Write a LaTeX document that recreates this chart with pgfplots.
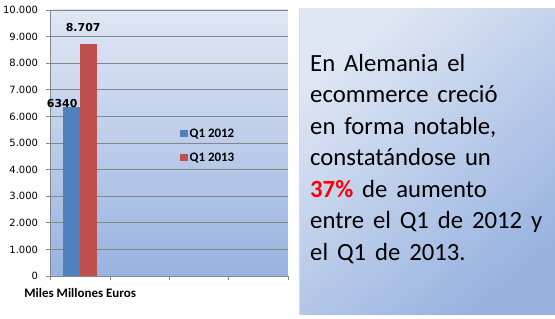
\documentclass[border=0pt]{standalone}
\usepackage{pgfplots}
\pgfplotsset{compat=1.18}
\usepackage{fontspec}
\setmainfont{Carlito}
\newfontfamily\dejavu{DejaVu Sans}
\definecolor{barblue}{HTML}{4F81BD}
\definecolor{barred}{HTML}{C0504D}
\definecolor{bglight}{HTML}{E0E7F4}
\definecolor{bgdark}{HTML}{98B3E0}
\definecolor{gridgray}{HTML}{868686}
\newcommand\paneltext{\fontsize{24.8}{28}\selectfont\spaceskip=0.36em plus 0em\relax}
\begin{document}
\begin{tikzpicture}
\useasboundingbox (0bp,0bp) rectangle (555bp,319bp);
\fill[white] (0bp,0bp) rectangle (555bp,319bp);
% text panel
\shade[top color=bglight, bottom color=bgdark, shading angle=40] (299bp,4bp) rectangle (555bp,310bp);
\draw[gray!30, line width=0.6bp] (299bp,4bp) -- (299bp,310bp);
\begin{scope}[every node/.style={anchor=base west, inner sep=0pt, font=\paneltext}]
\node at (310bp,247bp) {En Alemania el};
\node at (310bp,216bp) {ecommerce creció};
\node at (310bp,184bp) {en forma notable,};
\node at (310bp,153bp) {constatándose un};
\node at (310bp,121bp) {\textcolor{red}{\bfseries 37\%} de aumento};
\node at (310bp,90bp) {entre el Q1 de 2012 y};
\node at (310bp,58bp) {el Q1 de 2013.};
\end{scope}
\begin{axis}[
  at={(50.5bp,43bp)}, anchor=south west,
  scale only axis, width=237.5bp, height=266bp,
  xmin=0, xmax=4, ymin=0, ymax=10000,
  scaled y ticks=false,
  axis lines*=left,
  axis line style={gridgray, line width=0.7bp},
  axis background/.style={top color=bglight, bottom color=bgdark},
  ybar=0pt, bar width=17bp,
  xtick={0,1,2,3,4}, xticklabels={},
  ytick={0,1000,...,10000},
  yticklabels={0,1.000,2.000,3.000,4.000,5.000,6.000,7.000,8.000,9.000,10.000},
  yticklabel style={font=\dejavu\fontsize{10}{12}\selectfont, text=black, xshift=-5bp},
  tick align=outside, major tick length=4bp,
  tick style={gridgray, line width=0.7bp},
  ymajorgrids, grid style={gridgray, line width=0.7bp},
  legend style={at={(0.545,0.49)}, anchor=west, draw=none, fill=none,
    font=\bfseries\fontsize{13}{15}\selectfont, row sep=10bp,
    inner sep=0pt, cells={anchor=west}},
  legend image code/.code={\fill[#1] (0bp,-3.5bp) rectangle (7.5bp,4bp);},
  clip=false,
]
\addplot[fill=barblue, draw=none] coordinates {(0.5,6340)};
\addplot[fill=barred, draw=none] coordinates {(0.5,8707)};
\legend{Q1 2012, Q1 2013}
\node[anchor=base, inner sep=0pt, font=\dejavu\bfseries\fontsize{11}{13}\selectfont] at (axis cs:0.5,6340) [xshift=-18bp, yshift=0bp] {6340};
\node[anchor=base, inner sep=0pt, font=\dejavu\bfseries\fontsize{11}{13}\selectfont] at (axis cs:0.5,8707) [xshift=3bp, yshift=13bp] {8.707};
\node[anchor=base, inner sep=0pt, font=\bfseries\fontsize{13}{15}\selectfont] at (axis cs:0.5,0) [yshift=-21.7bp] {Miles Millones Euros};
\end{axis}
\end{tikzpicture}
\end{document}
